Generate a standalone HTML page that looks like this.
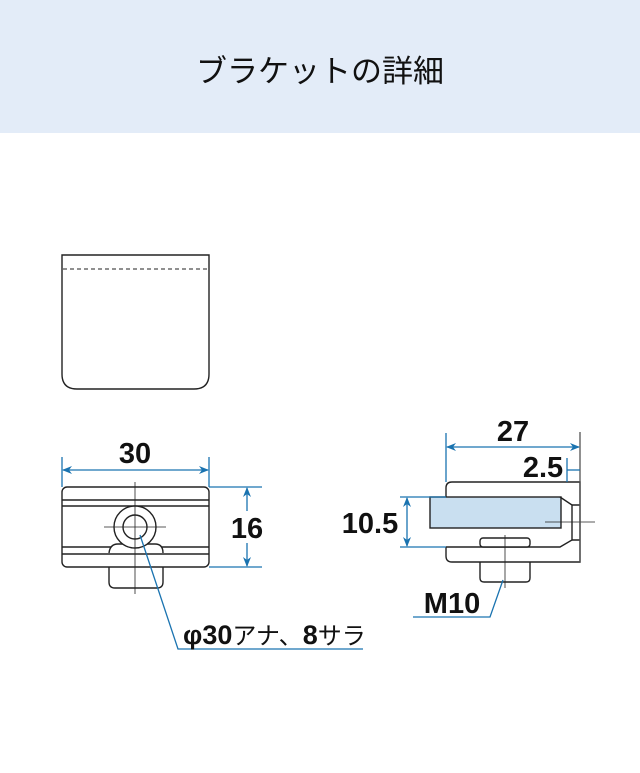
<!DOCTYPE html>
<html><head><meta charset="utf-8"><style>
body{margin:0;width:640px;height:773px;background:#fff;overflow:hidden;font-family:"Liberation Sans","Noto Sans CJK JP",sans-serif}
.hd{position:absolute;left:0;top:0;width:640px;height:133px;background:#e3ecf8}
.hd div{position:absolute;left:0;right:0;top:46px;text-align:center;font-size:31px;color:#111;font-family:"Noto Sans CJK JP",sans-serif}
svg{position:absolute;left:0;top:0}
</style></head><body>
<div class="hd"><div>ブラケットの詳細</div></div>
<svg width="640" height="773" viewBox="0 0 640 773">
<defs><marker id="a" markerWidth="10" markerHeight="8" refX="9" refY="4" orient="auto-start-reverse" markerUnits="userSpaceOnUse"><path d="M0,0 L10,4 L0,8 L3,4 z" fill="#1a73b0"/></marker></defs>
<g fill="none" stroke="#222" stroke-width="1.4">
<path d="M62,255 H209 V374 Q209,389 194,389 H77 Q62,389 62,374 Z"/>
<line x1="63" y1="269" x2="208" y2="269" stroke-dasharray="4,3" stroke-width="1"/>
<rect x="62" y="487" width="147" height="80" rx="5"/>
<line x1="62" y1="500" x2="209" y2="500"/><line x1="62" y1="506" x2="209" y2="506"/>
<line x1="62" y1="547" x2="209" y2="547"/><line x1="62" y1="554" x2="209" y2="554"/>
<path d="M109,553 Q110,544 118,544 H155 Q163,544 163,553" fill="#fff"/>
<path d="M109,567 V582 Q109,588 115,588 H157 Q163,588 163,582 V567"/>
<circle cx="135" cy="527" r="21" fill="#fff"/><circle cx="135" cy="527" r="12"/>
<line x1="135" y1="482" x2="135" y2="594" stroke-width="0.8"/>
<line x1="104" y1="527" x2="166" y2="527" stroke-width="0.8"/>
<path d="M446,497 V488 Q446,482 452,482 H580 V562 H452 Q446,562 446,556 V547"/>
<rect x="430" y="497" width="131" height="31" fill="#c9dff0" stroke="#222"/>
<path d="M560,497 L572,505 V540 L560,547 H446"/>
<path d="M572,505 H580 M572,540 H580"/>
<rect x="480" y="538" width="50" height="9" rx="3" fill="#fff"/>
<path d="M480,562 V578 Q480,582 484,582 H526 Q530,582 530,578 V562"/>
<line x1="505" y1="535" x2="505" y2="588" stroke-width="0.8"/>
<line x1="545" y1="522" x2="595" y2="522" stroke-width="0.8"/>
</g>
<g stroke="#1a73b0" stroke-width="1.3" fill="none">
<line x1="62" y1="457" x2="62" y2="487"/><line x1="209" y1="457" x2="209" y2="487"/>
<line x1="63" y1="470" x2="208" y2="470" marker-start="url(#a)" marker-end="url(#a)"/>
<line x1="209" y1="487" x2="262" y2="487"/><line x1="209" y1="567" x2="262" y2="567"/>
<line x1="247" y1="488" x2="247" y2="511" marker-start="url(#a)"/>
<line x1="247" y1="543" x2="247" y2="566" marker-end="url(#a)"/>
<polyline points="140,535 178,649 363,649"/>
<line x1="446" y1="433" x2="446" y2="482"/><line x1="580" y1="432" x2="580" y2="562" stroke="#555"/>
<line x1="447" y1="447" x2="579" y2="447" marker-start="url(#a)" marker-end="url(#a)"/>
<line x1="567" y1="458" x2="567" y2="482"/><line x1="567" y1="470" x2="580" y2="470"/>
<line x1="400" y1="497" x2="446" y2="497"/><line x1="400" y1="547" x2="446" y2="547"/>
<line x1="407" y1="498" x2="407" y2="546" marker-start="url(#a)" marker-end="url(#a)"/>
<polyline points="503,580 490,617 413,617"/>
</g>
<g font-family="Liberation Sans,sans-serif" font-weight="bold" fill="#111" font-size="29">
<text x="135" y="463" text-anchor="middle">30</text>
<text x="247" y="538" text-anchor="middle">16</text>
<text x="513" y="441" text-anchor="middle">27</text>
<text x="543" y="477" text-anchor="middle">2.5</text>
<text x="370" y="533" text-anchor="middle">10.5</text>
<text x="452" y="613" text-anchor="middle">M10</text>
<text x="183" y="644" font-size="27">φ30<tspan font-family="Noto Sans CJK JP,sans-serif" font-weight="normal" font-size="24">アナ、</tspan>8<tspan font-family="Noto Sans CJK JP,sans-serif" font-weight="normal" font-size="24">サラ</tspan></text>
</g>
</svg>
</body></html>
